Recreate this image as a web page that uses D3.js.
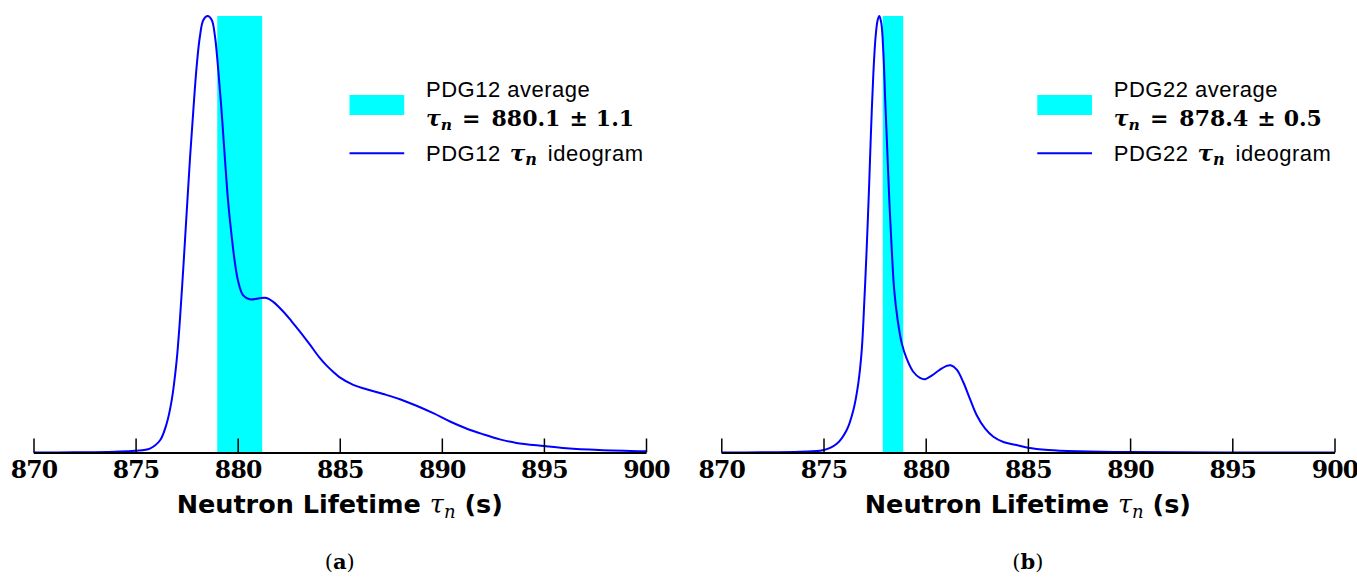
<!DOCTYPE html>
<html>
<head>
<meta charset="utf-8">
<script src="https://cdn.jsdelivr.net/npm/d3@7"></script>
<style>
  body { margin: 0; background: #fff; }
  svg { display: block; }
</style>
</head>
<body>
<svg id="chart" width="1357" height="580"></svg>
<script>
// tick labels shared by both panels
const tickValues = [870, 875, 880, 885, 890, 895, 900];

// PDG12 ideogram (peak normalised to 1)
const pdg12Tau = [870, 872, 874, 874.97, 875.7, 876.2, 876.52, 876.77, 877.01, 877.17, 877.34, 877.5,
  877.66, 877.83, 877.99, 878.15, 878.32, 878.53, 878.73, 878.89, 879.05, 879.22, 879.38, 879.54,
  879.71, 879.87, 880.03, 880.27, 880.6, 881.01, 881.42, 881.74, 882.23, 882.65, 883.05, 883.54,
  884.0, 884.36, 884.7, 885, 885.66, 886.31, 887.13, 887.95, 888.76, 889.58, 890.4, 891.2, 892.0,
  892.84, 893.65, 895, 896.1, 897.7, 900];
const pdg12Density = [0, 0.0005, 0.002, 0.004, 0.009, 0.028, 0.066, 0.12, 0.21, 0.303, 0.425, 0.548,
  0.67, 0.785, 0.884, 0.953, 0.991, 1.0, 0.991, 0.953, 0.876, 0.777, 0.67, 0.571,
  0.494, 0.433, 0.391, 0.36, 0.351, 0.353, 0.354, 0.345, 0.323, 0.3, 0.277, 0.247,
  0.218, 0.199, 0.184, 0.172, 0.155, 0.145, 0.134, 0.122, 0.107, 0.09, 0.071, 0.055, 0.042,
  0.03, 0.022, 0.015, 0.01, 0.006, 0.003];
const pdg12Average = [880.1, 1.1];

// PDG22 ideogram
const pdg22Tau = [870, 872, 873.85, 874.96, 875.65, 876.13, 876.46, 876.7, 876.87, 877.0, 877.11, 877.23,
  877.32, 877.44, 877.55, 877.65, 877.73, 877.83, 877.93, 878.02, 878.12, 878.22, 878.34, 878.46,
  878.63, 878.83, 879.07, 879.39, 879.72, 879.97, 880.29, 880.7, 881.0, 881.22, 881.52, 881.84, 882.17,
  882.49, 882.9, 883.31, 883.8, 884.45, 885, 886, 887.5, 890, 900];
const pdg22Density = [0, 0.0005, 0.002, 0.005, 0.02, 0.051, 0.097, 0.158, 0.234, 0.349, 0.464, 0.609,
  0.731, 0.869, 0.953, 0.991, 1.0, 0.983, 0.915, 0.807, 0.693, 0.578, 0.464, 0.372,
  0.303, 0.25, 0.215, 0.185, 0.171, 0.168, 0.176, 0.19, 0.198, 0.2, 0.19, 0.161, 0.122,
  0.086, 0.055, 0.036, 0.024, 0.017, 0.011, 0.006, 0.003, 0.001, 0];
const pdg22Average = [878.4, 0.5];

const svg = d3.select("#chart");
const sansFont = "'Liberation Sans', Arial, sans-serif";
const serifFont = "'DejaVu Serif', serif";

const panel = (left, right, p) => {
  const x = d3.scaleLinear().domain([870, 900]).range([left, right]);
  const y = d3.scaleLinear().domain([0, 1]).range([452.5, 16]);
  const g = svg.append("g");

  // average band
  const [mean, err] = p.average;
  g.append("rect")
    .attr("x", x(mean - err))
    .attr("width", x(mean + err) - x(mean - err))
    .attr("y", y(1))
    .attr("height", y(0) - y(1))
    .attr("fill", "#00ffff");

  // ideogram
  const line = d3.line()
    .x((d, i) => x(p.tau[i]))
    .y((d) => y(d))
    .curve(d3.curveCatmullRom.alpha(0.5));
  g.append("path")
    .attr("d", line(p.density))
    .attr("fill", "none")
    .attr("stroke", "#0000ff")
    .attr("stroke-width", 2);

  // axis
  const axis = d3.axisBottom(x)
    .tickValues(tickValues)
    .tickSizeInner(-14)
    .tickSizeOuter(0)
    .tickPadding(9)
    .tickFormat(d3.format("d"));
  const ax = g.append("g")
    .attr("transform", `translate(0,${y(0)})`)
    .call(axis);
  ax.select(".domain").attr("stroke", "#000").attr("stroke-width", 2);
  ax.selectAll(".tick line").attr("stroke", "#000").attr("stroke-width", 1.5);
  ax.selectAll(".tick text")
    .attr("font-family", serifFont)
    .attr("font-weight", "bold")
    .attr("font-size", 23.5)
    .attr("letter-spacing", -0.8)
    .attr("fill", "#000");

  // axis title
  const cx = (left + right) / 2;
  const title = g.append("text")
    .attr("x", cx).attr("y", 513)
    .attr("text-anchor", "middle")
    .attr("font-family", "'DejaVu Sans', sans-serif")
    .attr("font-weight", "bold")
    .attr("font-size", 25.5)
    .attr("fill", "#000");
  title.append("tspan").text("Neutron Lifetime ");
  title.append("tspan").attr("font-family", serifFont).attr("font-style", "italic")
    .attr("font-weight", "normal").text("τ");
  title.append("tspan").attr("font-family", serifFont).attr("font-style", "italic")
    .attr("font-weight", "normal").attr("font-size", 18).attr("dy", 5).text("n");
  title.append("tspan").attr("dy", -5).text(" (s)");

  // sub caption
  const cap = g.append("text")
    .attr("x", cx).attr("y", 569)
    .attr("text-anchor", "middle")
    .attr("font-family", serifFont)
    .attr("font-size", 21)
    .attr("fill", "#000");
  cap.append("tspan").text("(");
  cap.append("tspan").attr("font-weight", "bold").text(p.caption);
  cap.append("tspan").text(")");

  // legend
  const lx = left + 316, tx = left + 392.5;
  g.append("rect")
    .attr("x", lx).attr("y", 95)
    .attr("width", 54.7).attr("height", 20)
    .attr("fill", "#00ffff");
  g.append("line")
    .attr("x1", lx).attr("x2", lx + 54.7)
    .attr("y1", 153.3).attr("y2", 153.3)
    .attr("stroke", "#0000ff").attr("stroke-width", 2);

  g.append("text")
    .attr("x", tx).attr("y", 96.7)
    .attr("font-family", sansFont).attr("font-size", 22)
    .attr("letter-spacing", 0.5).attr("fill", "#000")
    .text(`${p.name} average`);

  const m = g.append("text")
    .attr("x", tx).attr("y", 125.5)
    .attr("font-family", serifFont).attr("font-weight", "bold")
    .attr("font-size", 22).attr("fill", "#000");
  m.append("tspan").attr("font-style", "italic").text("τ");
  m.append("tspan").attr("font-style", "italic").attr("font-size", 15.5).attr("dy", 4).text("n");
  m.append("tspan").attr("dy", -4).attr("dx", 10).text("=");
  m.append("tspan").attr("dx", 11).text(mean.toFixed(1));
  m.append("tspan").attr("dx", 9).text("±");
  m.append("tspan").attr("dx", 8).text(err.toFixed(1));

  const l3 = g.append("text")
    .attr("x", tx).attr("y", 160.7)
    .attr("font-family", sansFont).attr("font-size", 22)
    .attr("letter-spacing", 0.5).attr("fill", "#000");
  l3.append("tspan").text(`${p.name}`);
  l3.append("tspan").attr("font-family", serifFont).attr("font-weight", "bold")
    .attr("font-style", "italic").attr("letter-spacing", 0).attr("font-size", 23)
    .attr("dx", 9).text("τ");
  l3.append("tspan").attr("font-family", serifFont).attr("font-weight", "bold")
    .attr("font-style", "italic").attr("letter-spacing", 0).attr("font-size", 16)
    .attr("dy", 4).text("n");
  l3.append("tspan").attr("dy", -4).attr("dx", 11).text("ideogram");
};

panel(33.5, 646, { tau: pdg12Tau, density: pdg12Density, average: pdg12Average, name: "PDG12", caption: "a" });
panel(721.3, 1334.5, { tau: pdg22Tau, density: pdg22Density, average: pdg22Average, name: "PDG22", caption: "b" });
</script>
</body>
</html>
